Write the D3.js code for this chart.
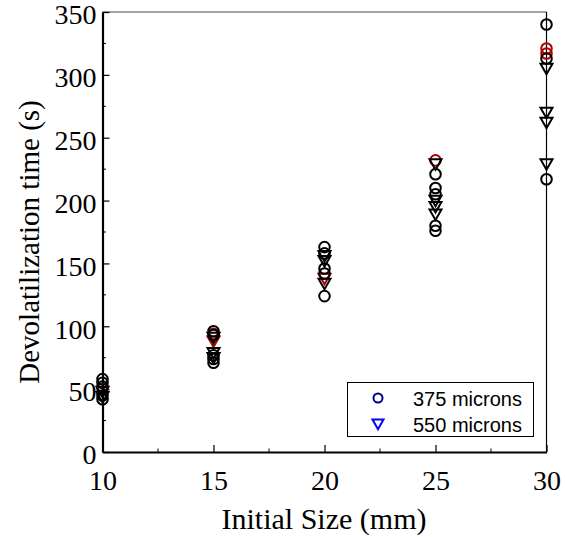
<!DOCTYPE html>
<html>
<head>
<meta charset="utf-8">
<script src="https://cdn.jsdelivr.net/npm/d3@7"></script>
<style>
  html, body { margin: 0; padding: 0; background: #fff; }
  svg { display: block; }
</style>
</head>
<body>
<svg id="chart" width="565" height="537"></svg>
<script>
// Initial particle sizes (mm) tested
const sizes = [10, 15, 20, 25, 30];

// Devolatilization times (s) per size, 375 micron runs (circles)
const circles375 = [
  [58, 55, 52, 45, 42],
  [96, 93, 77, 74, 71],
  [163, 158, 146, 142, 124],
  [221, 210, 205, 180, 176],
  [340, 313, 217]
];
// Repeat runs of the 375 micron case plotted in red
const circles375Red = [
  [50],
  [94],
  [],
  [232],
  [321, 317]
];

// Devolatilization times (s) per size, 550 micron runs (down triangles)
const triangles550 = [
  [48, 44],
  [91, 79, 75],
  [156, 152, 134],
  [229, 200, 195, 189],
  [305, 270, 262, 229]
];
const triangles550Red = [
  [],
  [88],
  [138],
  [],
  []
];

const xTicks = [10, 15, 20, 25, 30];
const yTicks = [0, 50, 100, 150, 200, 250, 300, 350];
const legendLabels = ["375 microns", "550 microns"];

const svg = d3.select("#chart");
const plotLeft = 102.5, plotRight = 546.5, plotTop = 12, plotBottom = 452;

const x = d3.scaleLinear().domain([10, 30]).range([plotLeft, plotRight]);
const y = d3.scaleLinear().domain([0, 350]).range([plotBottom, plotTop]);

const serif = "'Liberation Serif', 'Times New Roman', serif";
const sans = "'Liberation Sans', Arial, sans-serif";

// Frame: thin top and right edges
svg.append("line").attr("x1", plotLeft).attr("x2", plotRight).attr("y1", plotTop).attr("y2", plotTop)
  .attr("stroke", "#444").attr("stroke-width", 1);
svg.append("line").attr("x1", plotRight).attr("x2", plotRight).attr("y1", plotTop).attr("y2", plotBottom)
  .attr("stroke", "#000").attr("stroke-width", 1.2);

// Minor ticks
const xMinor = d3.range(12.5, 30, 5);
const yMinor = d3.range(25, 350, 50);
svg.append("g").selectAll("line").data(xMinor).join("line")
  .attr("x1", d => x(d)).attr("x2", d => x(d))
  .attr("y1", plotBottom).attr("y2", plotBottom - 3.5)
  .attr("stroke", "#000").attr("stroke-width", 1);
svg.append("g").selectAll("line").data(yMinor).join("line")
  .attr("y1", d => y(d)).attr("y2", d => y(d))
  .attr("x1", plotLeft).attr("x2", plotLeft + 3.5)
  .attr("stroke", "#000").attr("stroke-width", 1);

// Bottom axis, ticks pointing inward
const xAxis = svg.append("g").attr("transform", `translate(0,${plotBottom})`)
  .call(d3.axisBottom(x).tickValues(xTicks).tickSizeInner(-7).tickSizeOuter(0).tickPadding(18)
    .tickFormat(d3.format("d")));
xAxis.select(".domain").attr("stroke", "#000").attr("stroke-width", 2.2);
xAxis.selectAll(".tick line").attr("stroke", "#000").attr("stroke-width", 1.2);
xAxis.selectAll(".tick text")
  .attr("font-family", serif).attr("font-size", 28).attr("fill", "#000");

// Left axis, ticks pointing inward
const yAxis = svg.append("g").attr("transform", `translate(${plotLeft},0)`)
  .call(d3.axisLeft(y).tickValues(yTicks).tickSizeInner(-7).tickSizeOuter(0).tickPadding(6)
    .tickFormat(d3.format("d")));
yAxis.select(".domain").attr("stroke", "#000").attr("stroke-width", 2.2);
yAxis.selectAll(".tick line").attr("stroke", "#000").attr("stroke-width", 1.2);
yAxis.selectAll(".tick text")
  .attr("font-family", serif).attr("font-size", 28).attr("fill", "#000")
  .attr("dy", "0.42em");

// Axis titles
svg.append("text").attr("x", 324).attr("y", 529)
  .attr("text-anchor", "middle").attr("font-family", serif).attr("font-size", 30)
  .text("Initial Size (mm)");
svg.append("text")
  .attr("transform", `translate(39,242) rotate(-90)`)
  .attr("text-anchor", "middle").attr("font-family", serif).attr("font-size", 29)
  .text("Devolatilization time (s)");

// Flatten per-size arrays into points
function points(groups) {
  const out = [];
  groups.forEach((vals, i) => vals.forEach(v => out.push({ size: sizes[i], t: v })));
  return out;
}

const triPath = (cx, cy, s) =>
  `M${cx - s},${cy - s * 0.8}L${cx + s},${cy - s * 0.8}L${cx},${cy + s * 0.95}Z`;

const marks = svg.append("g");

function drawCircles(data, color) {
  marks.append("g").selectAll("circle").data(points(data)).join("circle")
    .attr("cx", d => x(d.size)).attr("cy", d => y(d.t)).attr("r", 5.3)
    .attr("fill", "none").attr("stroke", color).attr("stroke-width", 2);
}
function drawTriangles(data, color) {
  marks.append("g").selectAll("path").data(points(data)).join("path")
    .attr("d", d => triPath(x(d.size), y(d.t), 6))
    .attr("fill", "none").attr("stroke", color).attr("stroke-width", 2)
    .attr("stroke-linejoin", "miter");
}

drawCircles(circles375Red, "#b00000");
drawTriangles(triangles550Red, "#b00000");
drawCircles(circles375, "#000");
drawTriangles(triangles550, "#000");

// Legend
const lg = svg.append("g");
lg.append("rect").attr("x", 347.5).attr("y", 382.5).attr("width", 186).attr("height", 54)
  .attr("fill", "#fff").attr("stroke", "#000").attr("stroke-width", 1);
lg.append("circle").attr("cx", 378).attr("cy", 398).attr("r", 4.5)
  .attr("fill", "none").attr("stroke", "#00008b").attr("stroke-width", 2);
lg.append("path").attr("d", triPath(378, 424, 5.5))
  .attr("fill", "none").attr("stroke", "#0000ff").attr("stroke-width", 2);
lg.selectAll("text").data(legendLabels).join("text")
  .attr("x", 413).attr("y", (d, i) => 405.5 + i * 26)
  .attr("font-family", sans).attr("font-size", 20).attr("fill", "#000")
  .text(d => d);
</script>
</body>
</html>
